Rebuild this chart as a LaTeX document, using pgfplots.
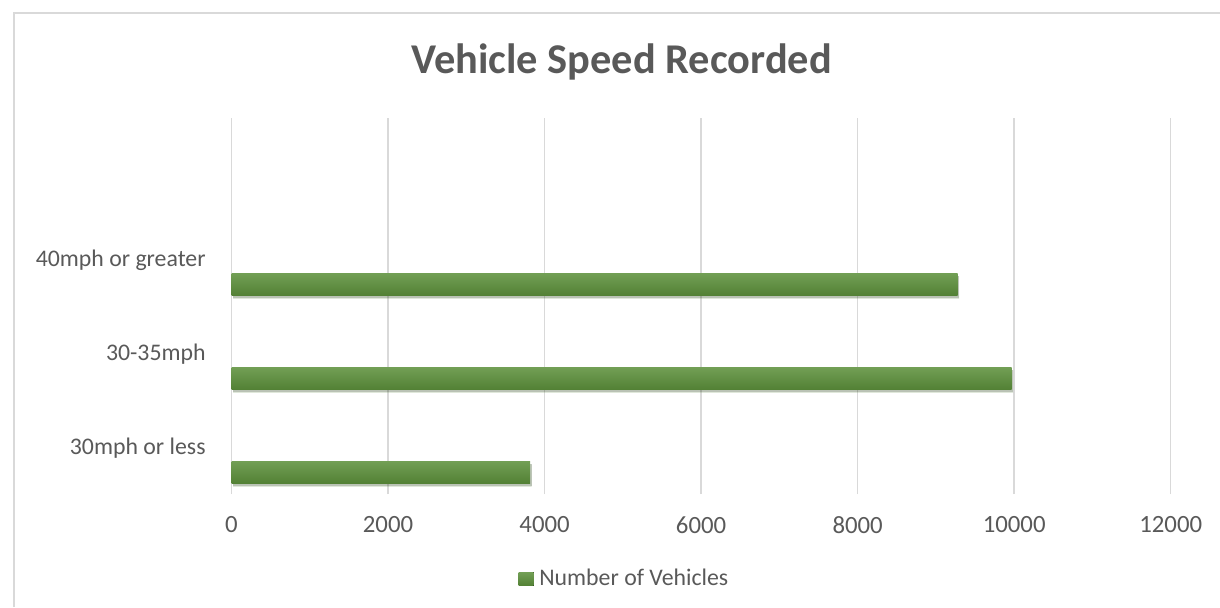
\documentclass[border=0pt]{standalone}
\usepackage{fontspec}
\setmainfont{Carlito}
\usepackage{pgfplots}
\pgfplotsset{compat=1.18}
\usetikzlibrary{shadows}
\definecolor{txt}{HTML}{595959}
\definecolor{gridc}{HTML}{D9D9D9}
\definecolor{bartop}{HTML}{729F55}
\definecolor{barbot}{HTML}{538135}
\begin{document}
\begin{tikzpicture}
\useasboundingbox (0pt,0pt) rectangle (610pt,303.5pt);
\draw[gridc, line width=0.75pt] (7pt,0pt) -- (7pt,297pt) -- (610pt,297pt);
\node[anchor=base, font=\fontsize{21.2}{25}\selectfont\bfseries, text=txt, inner sep=0pt] at (310.85pt,266.85pt) {Vehicle Speed Recorded};
\begin{axis}[
  at={(115.75pt,56.5pt)}, anchor=south west,
  scale only axis, width=469.6pt, height=187.85pt,
  xmin=0, xmax=12000, ymin=-0.5, ymax=3.5,
  xtick={0,2000,4000,6000,8000,10000,12000},
  ytick={0,1,2},
  yticklabels={30mph or less,30-35mph,40mph or greater},
  axis line style={draw=none},
  major tick length=0pt,
  xmajorgrids, grid style={gridc, line width=0.75pt},
  scaled x ticks=false,
  /pgf/number format/assume math mode=true,
  /pgf/number format/1000 sep={},
  xticklabel style={font=\fontsize{12.4}{15}\selectfont, text=txt, anchor=center, inner sep=0pt, yshift=-15.5pt},
  yticklabel style={font=\fontsize{11.9}{14}\selectfont, text=txt, anchor=base east, inner sep=0pt, xshift=-12.75pt, yshift=-3.8pt},
  legend style={at={(0.3054,-0.2262)}, anchor=west, draw=none, fill=none, inner sep=0pt,
    font=\fontsize{11.9}{14}\selectfont, text=txt, nodes={inner sep=0pt},
    /tikz/every odd column/.append style={column sep=2.8pt}},
  barstyle/.style={xbar, bar width=11pt, bar shift=-12.5pt, draw=none, top color=bartop, bottom color=barbot,
    drop shadow={shadow xshift=0.8pt, shadow yshift=-1.6pt, opacity=0.18, fill=black}, forget plot},
]
\addplot[barstyle] coordinates {(3815,0)};
\addplot[barstyle] coordinates {(9966,1)};
\addplot[barstyle] coordinates {(9276,2)};
\addlegendimage{legend image code/.code={\fill[top color=bartop, bottom color=barbot, draw=none] (0pt,-3.35pt) rectangle (7.5pt,3.35pt);}}
\addlegendentry{Number of Vehicles}
\end{axis}
\end{tikzpicture}
\end{document}
